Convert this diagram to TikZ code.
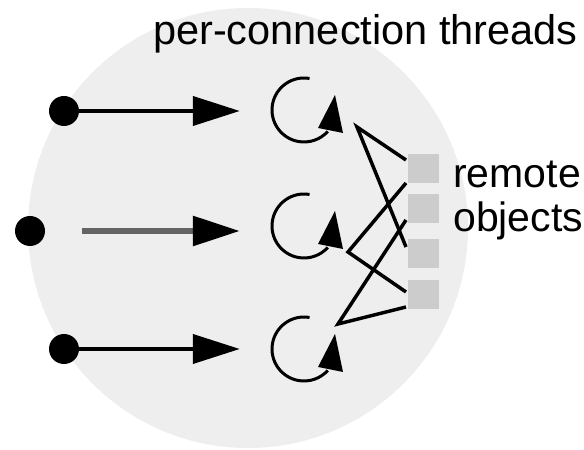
\documentclass[tikz,border=0pt]{standalone}
\usepackage{fontspec}
\setmainfont{Liberation Sans}
\usetikzlibrary{arrows.meta,positioning,calc}
\definecolor{discgray}{RGB}{238,238,238}
\definecolor{objgray}{RGB}{204,204,204}
\definecolor{linkgray}{RGB}{100,100,100}

\begin{document}
\begin{tikzpicture}[x=1pt, y=1pt,
  every node/.style={font=\fontsize{41}{44}\selectfont, inner sep=0pt},
  conn/.style={circle, fill=black, minimum size=30pt},
  thread/.style={circle, minimum size=66pt},
  robj/.style={fill=objgray, minimum width=31pt, minimum height=29pt, outer sep=2pt},
  link/.style={line width=3.5pt},
  feed/.style={line width=4pt, -{Triangle[length=47pt,width=29pt,color=black]}, shorten >=31pt}]
  \useasboundingbox (0,0) rectangle (584,450);
  \fill[discgray] (248,222) circle (220);

  % incoming connections
  \node[conn] (d1) at (64,339) {};
  \node[conn] (d2) at (30,219) {};
  \node[conn] (d3) at (64,101) {};

  % one thread per connection
  \node[thread] (t1) at (304,340) {};
  \node[thread] (t2) at (304,224) {};
  \node[thread] (t3) at (304,101) {};
  \foreach \t in {t1,t2,t3} {
    \draw[line width=3pt] ([shift={(80:32)}]\t.center) arc (80:318:32);
    \fill ([shift={(31,15)}]\t.center) -- ([shift={(14,-18)}]\t.center)
      -- ([shift={(39,-23)}]\t.center) -- cycle;
  }

  \draw[feed] (d1) -- (d1 -| t1.west);
  \draw[feed, draw=linkgray, line width=6pt, shorten <=37pt] (d2) -- (d2 -| t2.west);
  \draw[feed] (d3) -- (d3 -| t3.west);

  % remote objects
  \node[robj] (o1) at (423.5,281.5) {};
  \node[robj] (o2) at (423.5,241.5) {};
  \node[robj] (o3) at (423.5,196.5) {};
  \node[robj] (o4) at (423.5,155.5) {};

  \coordinate (a1) at (357,323);
  \coordinate (a2) at (348,198);
  \coordinate (a3) at (338,126);
  \draw[link] ([yshift=8.5pt]o1.west) -- (a1) -- ([yshift=6.5pt]o3.west);
  \draw[link] ([yshift=-14.5pt]o1.west) -- (a2) -- ([yshift=2.5pt]o4.west);
  \draw[link] ([yshift=-11.5pt]o2.west) -- (a3) -- ([yshift=-12.5pt]o4.west);

  \node[anchor=base west, font=\fontsize{41.5}{44}\selectfont] (title) at (153,405) {per-connection threads};
  \node[anchor=base west, align=left] (objlabel) at (453,218) {remote\\objects};
\end{tikzpicture}
\end{document}
